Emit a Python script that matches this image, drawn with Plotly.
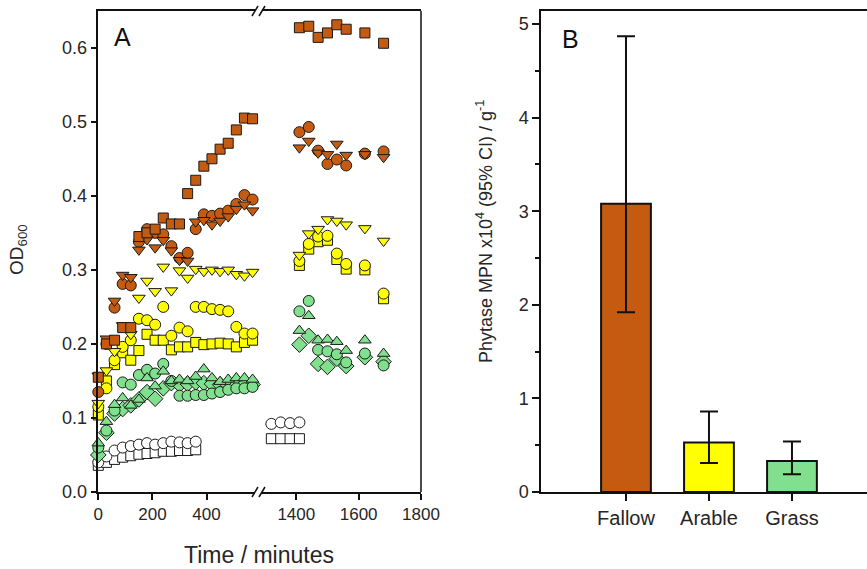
import plotly.graph_objects as go

W, H = 867, 569

# ---------------- Panel A data ----------------
t_left = [0, 30, 60, 90, 120, 150, 180, 210, 240, 270, 300, 330, 360, 390, 420, 450, 480, 510, 540, 570]
t_right = [1410, 1440, 1470, 1500, 1530, 1560, 1620, 1680]
t_ctrl_left = [0, 30, 60, 90, 120, 150, 180, 210, 240, 270, 300, 330, 360]
t_ctrl_right = [1320, 1350, 1380, 1410]

fallow_sq_left = [0.155, 0.200, 0.205, 0.222, 0.222, 0.345, 0.350, 0.355, 0.370, 0.362, 0.362, 0.403, 0.421, 0.440, 0.450, 0.463, 0.471, 0.489, 0.505, 0.504]
fallow_sq_right = [0.627, 0.629, 0.614, 0.620, 0.631, 0.625, 0.620, 0.606]
fallow_ci_left = [0.135, 0.200, 0.249, 0.281, 0.279, 0.338, 0.355, 0.350, 0.348, 0.332, 0.316, 0.323, 0.355, 0.375, 0.373, 0.376, 0.380, 0.389, 0.401, 0.395]
fallow_ci_right = [0.486, 0.493, 0.461, 0.443, 0.449, 0.441, 0.457, 0.460]
fallow_tr_left = [0.157, 0.207, 0.258, 0.293, 0.290, 0.327, 0.341, 0.330, 0.340, 0.326, 0.313, 0.312, 0.365, 0.367, 0.361, 0.366, 0.372, 0.382, 0.388, 0.380]
fallow_tr_right = [0.465, 0.474, 0.458, 0.456, 0.470, 0.455, 0.456, 0.452]

arable_tr_left = [0.120, 0.164, 0.190, 0.225, 0.213, 0.262, 0.285, 0.271, 0.304, 0.272, 0.299, 0.289, 0.301, 0.298, 0.300, 0.298, 0.300, 0.294, 0.292, 0.297]
arable_tr_right = [0.320, 0.349, 0.355, 0.368, 0.366, 0.361, 0.356, 0.339]
arable_ci_left = [0.115, 0.140, 0.178, 0.196, 0.205, 0.234, 0.232, 0.226, 0.250, 0.211, 0.222, 0.217, 0.250, 0.250, 0.247, 0.246, 0.244, 0.223, 0.214, 0.214]
arable_ci_right = [0.312, 0.335, 0.345, 0.346, 0.322, 0.308, 0.306, 0.268]
arable_sq_left = [0.104, 0.150, 0.172, 0.188, 0.178, 0.191, 0.213, 0.205, 0.205, 0.192, 0.196, 0.196, 0.202, 0.199, 0.200, 0.201, 0.200, 0.196, 0.202, 0.205]
arable_sq_right = [0.306, 0.328, 0.338, 0.340, 0.314, 0.301, 0.300, 0.261]

grass_tr_left = [0.066, 0.095, 0.118, 0.127, 0.117, 0.125, 0.154, 0.143, 0.163, 0.150, 0.152, 0.150, 0.156, 0.166, 0.154, 0.149, 0.152, 0.154, 0.154, 0.152]
grass_tr_right = [0.218, 0.238, 0.205, 0.206, 0.203, 0.191, 0.205, 0.187]
grass_ci_left = [0.060, 0.083, 0.110, 0.148, 0.145, 0.158, 0.165, 0.160, 0.173, 0.150, 0.130, 0.130, 0.131, 0.131, 0.133, 0.135, 0.138, 0.140, 0.140, 0.142]
grass_ci_right = [0.244, 0.258, 0.192, 0.190, 0.186, 0.175, 0.187, 0.171]
grass_di_left = [0.050, 0.080, 0.106, 0.112, 0.117, 0.125, 0.135, 0.126, 0.140, 0.147, 0.145, 0.146, 0.148, 0.147, 0.146, 0.145, 0.144, 0.144, 0.145, 0.145]
grass_di_right = [0.199, 0.211, 0.173, 0.169, 0.180, 0.170, 0.182, 0.176]

ctrl_ci_left = [0.040, 0.048, 0.056, 0.060, 0.062, 0.064, 0.066, 0.064, 0.066, 0.068, 0.067, 0.066, 0.068]
ctrl_sq_left = [0.036, 0.040, 0.044, 0.047, 0.049, 0.051, 0.052, 0.053, 0.055, 0.055, 0.056, 0.056, 0.057]
ctrl_ci_right = [0.092, 0.094, 0.093, 0.094]
ctrl_sq_right = [0.072, 0.072, 0.072, 0.072]

x_ticks_left = [0, 200, 400]
x_ticks_right = [1400, 1600, 1800]
y_ticks_a = [0.0, 0.1, 0.2, 0.3, 0.4, 0.5, 0.6]

# ---------------- Panel B data ----------------
soils = ["Fallow", "Arable", "Grass"]
mpn = [3.08, 0.53, 0.33]
ci_upper = [4.87, 0.86, 0.54]
ci_lower = [1.92, 0.31, 0.19]
y_ticks_b = [0, 1, 2, 3, 4, 5]

C_FALLOW = "#C55A11"
C_ARABLE = "#FFFF00"
C_GRASS = "#80E08E"
C_CTRL = "#FFFFFF"
EDGE = "#1a1a1a"
FONT = "Liberation Sans, Arial, sans-serif"
TXT = "#262626"

def px(xp):
    return xp / W

def py(yp):
    return 1 - yp / H

fig = go.Figure()

def add_pair(tl, yl, tr, yr, color, symbol, size):
    mk = dict(color=color, symbol=symbol, size=size, line=dict(color=EDGE, width=1))
    fig.add_trace(go.Scatter(x=tl, y=yl, mode="markers", marker=mk, xaxis="x", yaxis="y",
                             cliponaxis=False, showlegend=False))
    fig.add_trace(go.Scatter(x=tr, y=yr, mode="markers", marker=mk, xaxis="x2", yaxis="y",
                             cliponaxis=False, showlegend=False))

# controls
add_pair(t_ctrl_left, ctrl_sq_left, t_ctrl_right, ctrl_sq_right, C_CTRL, "square", 10)
add_pair(t_ctrl_left, ctrl_ci_left, t_ctrl_right, ctrl_ci_right, C_CTRL, "circle", 11)
# grass
add_pair(t_left, grass_di_left, t_right, grass_di_right, C_GRASS, "diamond", 12)
add_pair(t_left, grass_ci_left, t_right, grass_ci_right, C_GRASS, "circle", 11)
add_pair(t_left, grass_tr_left, t_right, grass_tr_right, C_GRASS, "triangle-up", 11)
# arable
add_pair(t_left, arable_sq_left, t_right, arable_sq_right, C_ARABLE, "square", 10)
add_pair(t_left, arable_ci_left, t_right, arable_ci_right, C_ARABLE, "circle", 11)
add_pair(t_left, arable_tr_left, t_right, arable_tr_right, C_ARABLE, "triangle-down", 11)
# fallow
add_pair(t_left, fallow_ci_left, t_right, fallow_ci_right, C_FALLOW, "circle", 11)
add_pair(t_left, fallow_tr_left, t_right, fallow_tr_right, C_FALLOW, "triangle-down", 11)
add_pair(t_left, fallow_sq_left, t_right, fallow_sq_right, C_FALLOW, "square", 10)

# panel B bars
fig.add_trace(go.Bar(
    x=soils, y=mpn, xaxis="x3", yaxis="y3", width=0.6,
    marker=dict(color=[C_FALLOW, C_ARABLE, C_GRASS], line=dict(color="#111111", width=2)),
    error_y=dict(type="data", symmetric=False,
                 array=[u - m for u, m in zip(ci_upper, mpn)],
                 arrayminus=[m - l for m, l in zip(mpn, ci_lower)],
                 color="#111111", thickness=2, width=9),
    showlegend=False,
))

# geometry (pixels)
A_L, A_BRK1, A_BRK2, A_R = 98.3, 255, 262, 421
A_T, A_B = 11, 492
B_L, B_T, B_B = 541, 11, 492

axis_common = dict(showline=True, linecolor="#111111", linewidth=1.5, showgrid=False, zeroline=False,
                   ticks="outside", ticklen=6, tickwidth=1.5, tickcolor="#111111",
                   tickfont=dict(family=FONT, size=17, color=TXT), automargin=False)

fig.update_layout(
    width=W, height=H,
    margin=dict(l=0, r=0, t=0, b=0),
    paper_bgcolor="white", plot_bgcolor="white",
    font=dict(family=FONT, color=TXT),
    xaxis=dict(axis_common, domain=[px(A_L), px(A_BRK1)], range=[0, 579], tickvals=x_ticks_left,
               anchor="y", mirror=True),
    xaxis2=dict(axis_common, domain=[px(A_BRK2), px(A_R)], range=[1290, 1800], tickvals=x_ticks_right,
                anchor="y", mirror=True),
    yaxis=dict(axis_common, domain=[py(A_B), py(A_T)], range=[0, 0.6496], tickvals=y_ticks_a,
               tickformat=".1f", anchor="x", tickfont=dict(family=FONT, size=18, color=TXT)),
    xaxis3=dict(axis_common, domain=[px(B_L), 1.0], range=[-1.024, 2.904], anchor="y3", mirror=True,
                tickfont=dict(family=FONT, size=20, color=TXT), ticklen=7),
    yaxis3=dict(axis_common, domain=[py(B_B), py(B_T)], range=[0, 5.14], tickvals=y_ticks_b,
                anchor="x3", tickfont=dict(family=FONT, size=18, color=TXT), ticklen=7,
                minor=dict(ticks="outside", dtick=0.5, ticklen=4, tickcolor="#111111")),
    bargap=0.4,
)

line_k = dict(color="#111111", width=1.5)
shapes = [
    dict(type="line", xref="paper", yref="paper", x0=px(A_R), x1=px(A_R), y0=py(A_B), y1=py(A_T), line=line_k),
]
for yb in (A_B, A_T):
    for xb in (A_BRK1, A_BRK2):
        shapes.append(dict(type="line", xref="paper", yref="paper",
                           x0=px(xb - 3), x1=px(xb + 3), y0=py(yb + 5), y1=py(yb - 5), line=line_k))
fig.update_layout(shapes=shapes)

def ann(text, xp, yp, size, color=TXT, angle=0):
    return dict(text=text, x=px(xp), y=py(yp), xref="paper", yref="paper", showarrow=False,
                xanchor="center", yanchor="middle", textangle=angle,
                font=dict(family=FONT, size=size, color=color))

annotations = [
    ann("A", 122, 37, 25, "#111111"),
    ann("B", 570, 39, 25, "#111111"),
    ann("Time / minutes", 259, 555, 23),
    ann("OD<sub>600</sub>", 18, 250, 19, angle=-90),
    ann("Phytase MPN x10<sup>4</sup> (95% CI) / g<sup>-1</sup>", 485, 232, 18, angle=-90),
]
fig.update_layout(annotations=annotations)

fig.write_html("out.html", config={"displayModeBar": False},
               post_script="document.body.style.margin='0';document.body.style.padding='0';")
